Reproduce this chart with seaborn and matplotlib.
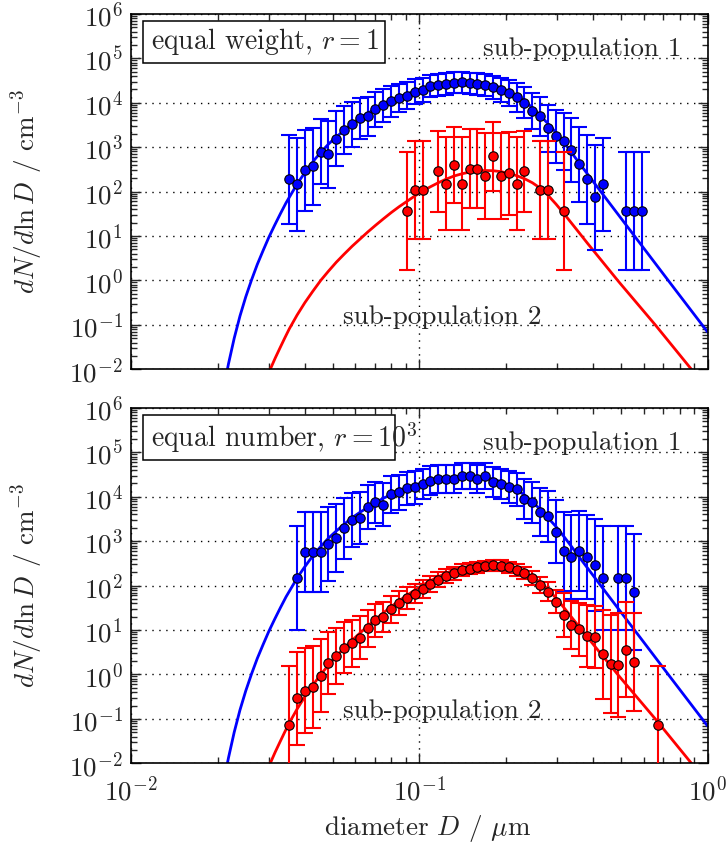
import numpy as np
import matplotlib
matplotlib.use("Agg")
import matplotlib.pyplot as plt
import seaborn as sns
from matplotlib.patches import Rectangle
from matplotlib.ticker import LogLocator, FuncFormatter, NullFormatter

nan = np.nan

# ---- bin diameters (µm) ----
bin_diam = [0.03540, 0.03769, 0.04012, 0.04271, 0.04547, 0.04841, 0.05154, 0.05487,
            0.05841, 0.06218, 0.06620, 0.07048, 0.07503, 0.07988, 0.08504, 0.09053,
            0.09638, 0.1026, 0.1092, 0.1163, 0.1238, 0.1318, 0.1403, 0.1494,
            0.1590, 0.1693, 0.1802, 0.1919, 0.2043, 0.2175, 0.2315, 0.2465,
            0.2624, 0.2794, 0.2974, 0.3166, 0.3371, 0.3589, 0.3821, 0.4068,
            0.4330, 0.4610, 0.4908, 0.5225, 0.5562, 0.5922, 0.6304, 0.6712]

# ---- panel 1: equal weight ----
blue_top = [188, 147, 299, 375, 787, 698, 1545, 2421, 3251, 4436, 5012, 7079, 8710, 10715,
            12735, 14388, 17701, 19275, 23714, 25003, 25882, 28184, 29174, 27227, 26303,
            25410, 22131, 19634, 16788, 13183, 10000, 6486, 5012, 2685, 1746, 1346, 859,
            408, 188, 75, 147, nan, nan, 37, 37, 37, nan, nan]
blue_top_err = [1.000, 1.047, 0.910, 0.867, 0.732, 0.753, 0.616, 0.544, 0.500, 0.455, 0.438,
                0.392, 0.365, 0.340, 0.320, 0.307, 0.285, 0.276, 0.255, 0.250, 0.247, 0.239,
                0.236, 0.242, 0.245, 0.249, 0.262, 0.274, 0.290, 0.317, 0.349, 0.403, 0.438,
                0.529, 0.596, 0.639, 0.716, 0.851, 1.000, 1.183, 1.047, nan, nan, 1.328,
                1.328, 1.328, nan, nan]
red_top = [nan] * 15 + [37, 109, 109, nan, 290, 149, 402, 149, 327, 327, 220, 618, 220, 257,
                        149, 290, nan, 109, 109, nan, 37] + [nan] * 12
red_top_err = [nan] * 15 + [1.328, 1.105, 1.105, nan, 0.913, 1.047, 0.852, 1.047, 0.890, 0.890,
                            0.968, 0.772, 0.968, 0.938, 1.047, 0.913, nan, 1.105, 1.105, nan,
                            1.328] + [nan] * 12

# ---- panel 2: equal number ----
blue_bot = [nan, 147, 577, 577, 577, 859, 1172, 1936, 2979, 3365, 5848, 7447, 6607, 11298,
            12531, 15417, 16218, 19275, 22909, 25003, 25003, 25003, 29717, 29174, 24547,
            29174, 21380, 19275, 16788, 14622, 8851, 7447, 4519, 3673, 1629, 587, 446, 597,
            446, 289, 147, nan, 147, 147, 72, nan, nan, nan]
blue_bot_err = [nan, 1.169, 0.901, 0.901, 0.901, 0.826, 0.769, 0.681, 0.608, 0.589, 0.503,
                0.468, 0.485, 0.410, 0.397, 0.370, 0.364, 0.343, 0.323, 0.313, 0.313, 0.313,
                0.294, 0.296, 0.315, 0.296, 0.331, 0.343, 0.360, 0.377, 0.443, 0.468, 0.542,
                0.575, 0.710, 0.898, 0.950, 0.894, 0.950, 1.034, 1.169, nan, 1.169, 1.169,
                1.314, nan, nan, nan]
red_bot = [0.0731, 0.291, 0.434, 0.524, 0.942, 1.82, 2.61, 4.03, 5.04, 6.76, 11.1, 16.6, 19.7,
           29.3, 40.0, 51.9, 66.1, 82.6, 111, 136, 165, 190, 225, 242, 259, 277, 287, 282,
           259, 225, 193, 149, 104, 71.9, 43.7, 21.5, 13.0, 10.4, 7.24, 7.11, 2.85, 1.70,
           1.61, 3.63, 1.88, nan, nan, 0.0731]
red_bot_err = [1.321, 1.041, 0.963, 0.927, 0.817, 0.699, 0.637, 0.567, 0.532, 0.488, 0.417,
               0.366, 0.345, 0.300, 0.268, 0.243, 0.221, 0.202, 0.180, 0.165, 0.152, 0.143,
               0.133, 0.129, 0.126, 0.122, 0.120, 0.121, 0.126, 0.133, 0.142, 0.159, 0.185,
               0.214, 0.259, 0.50, 0.55, 0.60, 0.70, 0.70, 1.00, 1.10, 1.17, 1.07, 1.10,
               nan, nan, 1.33]

# ---- model curves (log10 D, log10 dN/dlnD) ----
blue_curve_logD = [-1.682, -1.672, -1.662, -1.642, -1.622, -1.602, -1.582, -1.562, -1.542,
                   -1.522, -1.502, -1.482, -1.462, -1.442, -1.422, -1.402, -1.382, -1.362,
                   -1.342, -1.315, -1.288, -1.261, -1.233, -1.206, -1.179, -1.152, -1.124,
                   -1.097, -1.070, -1.043, -1.016, -0.989, -0.961, -0.934, -0.907, -0.880,
                   -0.853, -0.825, -0.798, -0.771, -0.744, -0.717, -0.690, -0.663, -0.635,
                   -0.608, -0.581, -0.554, -0.526, -0.499, -0.472, -0.445, -0.417, -0.367,
                   -0.250, -0.133, -0.0165, 0.0]
blue_curve_logN = [-2.57, -2.21, -1.88, -1.30, -0.80, -0.37, 0.01, 0.36, 0.67, 0.97, 1.24,
                   1.50, 1.75, 1.97, 2.19, 2.38, 2.56, 2.73, 2.88, 3.07, 3.23, 3.38, 3.53,
                   3.65, 3.76, 3.87, 3.97, 4.05, 4.13, 4.20, 4.26, 4.32, 4.36, 4.40, 4.43,
                   4.45, 4.465, 4.47, 4.46, 4.44, 4.40, 4.34, 4.26, 4.16, 4.04, 3.89, 3.72,
                   3.53, 3.33, 3.11, 2.88, 2.64, 2.40, 1.97, 0.97, -0.03, -1.02, -1.16]
red_curve_logD = [-1.535, -1.517, -1.500, -1.484, -1.467, -1.451, -1.424, -1.397, -1.369,
                  -1.342, -1.315, -1.288, -1.261, -1.233, -1.206, -1.179, -1.152, -1.124,
                  -1.097, -1.070, -1.043, -1.016, -0.989, -0.961, -0.934, -0.907, -0.880,
                  -0.853, -0.825, -0.798, -0.771, -0.744, -0.717, -0.690, -0.663, -0.635,
                  -0.608, -0.581, -0.554, -0.526, -0.499, -0.472, -0.445, -0.417, -0.308,
                  -0.1815, -0.0586, 0.0]
red_curve_logN = [-2.29, -2.0, -1.75, -1.53, -1.30, -1.09, -0.78, -0.50, -0.24, 0.0, 0.21,
                  0.41, 0.59, 0.77, 0.93, 1.09, 1.24, 1.39, 1.53, 1.66, 1.78, 1.90, 2.01,
                  2.11, 2.20, 2.28, 2.35, 2.40, 2.44, 2.465, 2.475, 2.47, 2.45, 2.41, 2.36,
                  2.29, 2.20, 2.08, 1.92, 1.72, 1.51, 1.29, 1.07, 0.84, -0.03, -1.0, -1.98,
                  -2.46]

panel_titles = [r"equal weight, $r = 1$", r"equal number, $r = 10^3$"]
pop_labels = ["sub-population 1", "sub-population 2"]

BLUE = "#0000ff"
RED = "#ff0000"
FS = 19.5

sns.set_style("ticks")
plt.rcParams.update({
    "font.family": ["cmr10"],
    "mathtext.fontset": "cm",
    "axes.formatter.use_mathtext": True,
    "font.size": FS,
    "axes.unicode_minus": False,
})

fig = plt.figure(figsize=(7.27, 8.48), dpi=100)
ax1 = fig.add_axes([0.1802, 0.5645, 0.7931, 0.4191])
ax2 = fig.add_axes([0.1802, 0.0999, 0.7931, 0.4190])

D = np.array(bin_diam)


def draw_series(ax, vals, errs, color, z):
    v = np.array(vals, dtype=float)
    e = np.array(errs, dtype=float)
    m = ~np.isnan(v)
    x, y, h = D[m], v[m], e[m]
    lo = y - y / 10 ** h
    hi = y * 10 ** h - y
    ax.errorbar(x, y, yerr=[lo, hi], fmt="none", ecolor=color, elinewidth=1.5,
                capsize=5.5, capthick=1.5, zorder=z)
    sns.scatterplot(x=x, y=y, ax=ax, color=color, edgecolor="black", linewidth=0.8,
                    s=46, zorder=z + 0.5, legend=False)


def log_fmt(v, p):
    return r"$10^{%d}$" % int(round(np.log10(v)))


boxes = [(0.021, 0.862, 0.420, 0.118), (0.021, 0.854, 0.437, 0.126)]

for k, (ax, (bv, be, rv, re), title) in enumerate([
    (ax1, (blue_top, blue_top_err, red_top, red_top_err), panel_titles[0]),
    (ax2, (blue_bot, blue_bot_err, red_bot, red_bot_err), panel_titles[1]),
]):
    ax.set_xscale("log")
    ax.set_yscale("log")
    sns.lineplot(x=10 ** np.array(blue_curve_logD), y=10 ** np.array(blue_curve_logN), ax=ax,
                 color=BLUE, lw=2, sort=False, estimator=None, zorder=2)
    sns.lineplot(x=10 ** np.array(red_curve_logD), y=10 ** np.array(red_curve_logN), ax=ax,
                 color=RED, lw=2, sort=False, estimator=None, zorder=2)
    draw_series(ax, bv, be, BLUE, 3)
    draw_series(ax, rv, re, RED, 4)
    ax.set_xlim(1e-2, 1)
    ax.set_ylim(1e-2, 1e6)
    ax.yaxis.set_major_locator(LogLocator(base=10, numticks=20))
    ax.yaxis.set_minor_locator(LogLocator(base=10, subs=np.arange(2, 10), numticks=20))
    ax.xaxis.set_major_locator(LogLocator(base=10, numticks=20))
    ax.xaxis.set_minor_locator(LogLocator(base=10, subs=np.arange(2, 10), numticks=20))
    ax.yaxis.set_major_formatter(FuncFormatter(log_fmt))
    ax.xaxis.set_major_formatter(FuncFormatter(log_fmt))
    ax.yaxis.set_minor_formatter(NullFormatter())
    ax.xaxis.set_minor_formatter(NullFormatter())
    ax.tick_params(which="both", direction="in", top=True, right=True, width=1, labelsize=FS)
    ax.tick_params(axis="y", which="major", pad=6)
    ax.tick_params(axis="x", which="major", pad=9)
    ax.tick_params(which="major", length=7)
    ax.tick_params(which="minor", length=4)
    ax.grid(True, which="major", ls=(0, (1, 4)), color="black", lw=1.0)
    for s in ax.spines.values():
        s.set_linewidth(1.2)
        s.set_color("black")
    ax.set_ylabel(r"$dN/d\ln D$ / cm$^{-3}$", fontsize=FS)
    ax.yaxis.set_label_coords(-0.15, 0.5)
    bx, by, bw, bh = boxes[k]
    ax.add_patch(Rectangle((bx, by), bw, bh, transform=ax.transAxes, facecolor="white",
                           edgecolor="black", lw=1.1, zorder=6))
    ax.text(bx + 0.014, by + bh / 2, title, transform=ax.transAxes, va="center", ha="left",
            fontsize=20, zorder=7)
    ax.text(0.782, 0.902, pop_labels[0], transform=ax.transAxes, va="center", ha="center",
            fontsize=FS, zorder=6)
    ax.text(0.539, 0.148, pop_labels[1], transform=ax.transAxes, va="center", ha="center",
            fontsize=FS, zorder=6)

ax1.set_xlabel("")
ax1.tick_params(labelbottom=False)
ax2.set_xlabel(r"diameter $D$ / $\mu$m", fontsize=FS)
ax2.xaxis.set_label_coords(0.515, -0.14)

fig.savefig("out.png", dpi=100)
